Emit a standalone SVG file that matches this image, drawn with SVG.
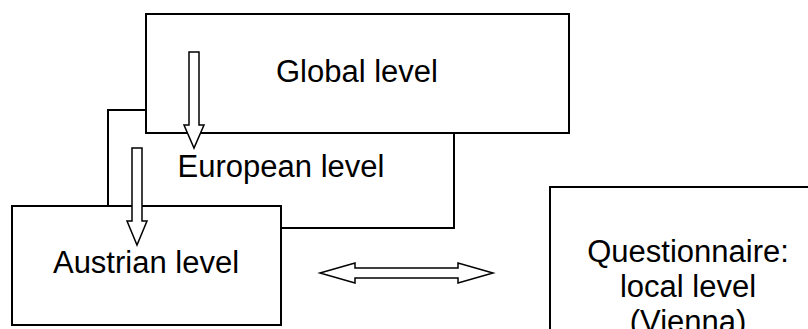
<svg xmlns="http://www.w3.org/2000/svg" width="808" height="329" viewBox="0 0 808 329">
  <style>
    .box { fill: #ffffff; stroke: #000000; stroke-width: 2; }
    .arrow { fill: #ffffff; stroke: #000000; stroke-width: 1.5; stroke-linejoin: miter; }
    .label { font-family: "Liberation Sans", Arial, sans-serif; font-size: 31px; fill: #000000; text-anchor: middle; }
  </style>
  <rect width="808" height="329" fill="#ffffff"/>

  <g id="european">
    <rect class="box" x="108" y="110" width="346" height="118"/>
    <text class="label" x="281" y="177">European level</text>
  </g>

  <g id="global">
    <rect class="box" x="146" y="14" width="423" height="119"/>
    <text class="label" x="357" y="82">Global level</text>
  </g>

  <g id="austrian">
    <rect class="box" x="12" y="206" width="269" height="119"/>
    <text class="label" x="146" y="273">Austrian level</text>
  </g>

  <g id="questionnaire">
    <rect class="box" x="550" y="187" width="270" height="160"/>
    <text class="label" x="688" y="262">Questionnaire:</text>
    <text class="label" x="688" y="297">local level</text>
    <text class="label" x="688" y="332">(Vienna)</text>
  </g>

  <g id="connectors">
    <!-- global to european -->
    <path class="arrow" d="M189,52 H199 V125 H204 L194,148 L184,125 H189 Z"/>
    <!-- european to austrian -->
    <path class="arrow" d="M132,148 H142 V221 H147 L137,245 L127,221 H132 Z"/>
    <!-- austrian to questionnaire, both ways -->
    <path class="arrow" d="M320,273 L355,263 V268 H458 V263 L493,273 L458,283 V278 H355 V283 Z"/>
  </g>
</svg>
